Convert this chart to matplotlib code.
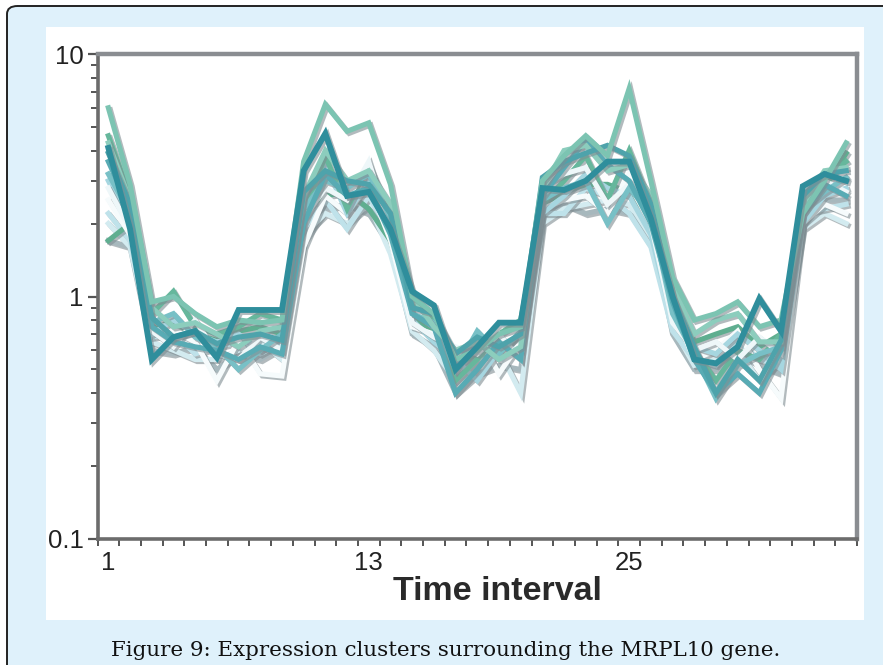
import matplotlib
matplotlib.use("Agg")
import matplotlib.pyplot as plt
import matplotlib.patheffects as pe
from matplotlib.patches import FancyBboxPatch, Rectangle
from matplotlib.ticker import FixedLocator, NullFormatter, FixedFormatter

# time points 1..35
time = list(range(1, 36))

# expression profiles of the neighbouring genes (cluster members)
gene_a = [6.0, 2.9, 0.95, 1.0, 0.85, 0.75, 0.80, 0.78, 0.80, 3.6, 6.2, 4.8, 5.2, 2.9, 1.0, 0.85, 0.55, 0.60, 0.70, 0.75, 3.0, 3.8, 4.6, 3.8, 7.2, 3.0, 1.2, 0.80, 0.85, 0.95, 0.75, 0.80, 2.2, 3.0, 4.3]
gene_b = [4.6, 2.6, 0.85, 1.05, 0.75, 0.70, 0.75, 0.85, 0.80, 2.2, 3.8, 2.3, 3.5, 2.2, 0.95, 0.80, 0.45, 0.55, 0.70, 0.80, 2.4, 3.0, 3.8, 2.5, 4.0, 2.4, 0.85, 0.60, 0.45, 0.60, 0.55, 0.70, 2.5, 3.1, 3.6]
gene_c = [3.6, 2.3, 0.75, 0.65, 0.62, 0.60, 0.55, 0.62, 0.58, 2.0, 3.2, 2.6, 2.8, 1.8, 0.85, 0.75, 0.40, 0.50, 0.65, 0.55, 2.6, 3.4, 4.4, 3.5, 3.0, 2.0, 0.95, 0.55, 0.40, 0.48, 0.40, 0.60, 2.2, 2.9, 2.6]
gene_d = [3.0, 2.0, 0.70, 0.80, 0.70, 0.65, 0.70, 0.60, 0.68, 2.5, 3.5, 2.2, 3.0, 2.0, 0.80, 0.65, 0.55, 0.45, 0.60, 0.70, 2.2, 2.6, 3.2, 2.8, 2.6, 1.8, 0.80, 0.62, 0.58, 0.70, 0.60, 0.50, 2.0, 2.6, 2.8]
gene_e = [2.5, 1.8, 0.80, 0.72, 0.65, 0.45, 0.66, 0.48, 0.47, 1.6, 2.6, 2.2, 2.9, 1.7, 0.75, 0.70, 0.55, 0.70, 0.48, 0.65, 2.3, 2.5, 2.6, 2.2, 3.2, 2.3, 0.90, 0.55, 0.60, 0.72, 0.50, 0.38, 2.0, 2.4, 2.2]
gene_f = [2.0, 1.6, 0.65, 0.60, 0.55, 0.55, 0.60, 0.65, 0.55, 1.8, 2.2, 2.0, 2.4, 1.5, 0.72, 0.60, 0.45, 0.55, 0.60, 0.40, 2.0, 2.3, 2.4, 2.5, 2.4, 1.7, 0.75, 0.52, 0.55, 0.60, 0.45, 0.55, 1.9, 2.2, 2.0]
gene_g = [1.7, 1.6, 0.60, 0.58, 0.62, 0.50, 0.58, 0.55, 0.62, 1.7, 2.3, 2.4, 2.2, 1.6, 0.70, 0.62, 0.40, 0.48, 0.52, 0.50, 2.1, 2.4, 2.2, 2.3, 2.2, 1.9, 0.70, 0.50, 0.50, 0.58, 0.52, 0.48, 2.1, 2.5, 2.5]
gene_h = [4.3, 2.5, 0.90, 0.75, 0.78, 0.70, 0.62, 0.72, 0.75, 2.6, 4.0, 3.0, 3.3, 2.4, 1.0, 0.75, 0.60, 0.65, 0.55, 0.62, 2.8, 4.0, 4.2, 3.3, 3.5, 2.6, 1.1, 0.70, 0.80, 0.85, 0.65, 0.65, 2.4, 3.3, 3.4]
gene_i = [3.2, 2.2, 0.78, 0.85, 0.68, 0.62, 0.50, 0.60, 0.70, 2.3, 3.0, 2.8, 3.2, 2.1, 0.85, 0.78, 0.50, 0.72, 0.58, 0.72, 2.5, 2.8, 3.0, 2.0, 2.8, 2.2, 0.85, 0.58, 0.38, 0.52, 0.58, 0.62, 2.3, 2.7, 3.1]
gene_j = [2.8, 1.9, 0.72, 0.62, 0.80, 0.58, 0.55, 0.68, 0.60, 2.1, 2.8, 2.5, 3.6, 1.9, 0.78, 0.68, 0.62, 0.58, 0.70, 0.55, 2.9, 3.2, 3.4, 2.4, 2.9, 2.0, 0.78, 0.60, 0.65, 0.55, 0.68, 0.58, 2.6, 3.0, 2.7]
gene_k = [2.2, 1.7, 0.68, 0.70, 0.58, 0.62, 0.65, 0.58, 0.65, 1.9, 2.5, 1.9, 2.6, 1.8, 0.78, 0.72, 0.48, 0.62, 0.65, 0.60, 2.2, 2.2, 2.8, 2.6, 2.2, 1.6, 0.72, 0.55, 0.52, 0.66, 0.55, 0.52, 2.2, 2.3, 2.4]
gene_l = [1.7, 2.0, 0.75, 0.78, 0.70, 0.66, 0.72, 0.75, 0.70, 2.3, 2.6, 2.7, 2.3, 1.7, 0.82, 0.70, 0.52, 0.58, 0.62, 0.68, 2.4, 2.7, 2.9, 2.9, 2.7, 2.1, 0.95, 0.65, 0.70, 0.75, 0.62, 0.70, 2.0, 2.8, 3.9]
gene_m = [3.9, 2.4, 0.82, 0.68, 0.72, 0.64, 0.68, 0.70, 0.66, 2.7, 3.3, 3.0, 2.9, 2.2, 0.90, 0.85, 0.58, 0.68, 0.62, 0.70, 3.1, 3.6, 3.9, 4.2, 3.8, 2.4, 1.0, 0.62, 0.40, 0.55, 0.45, 0.66, 2.6, 3.2, 3.3]

# MRPL10 itself
mrpl10 = [4.1, 1.9, 0.55, 0.68, 0.72, 0.56, 0.88, 0.88, 0.88, 3.3, 4.7, 2.6, 2.7, 1.9, 1.05, 0.92, 0.50, 0.62, 0.78, 0.78, 2.8, 2.75, 3.0, 3.6, 3.6, 2.1, 1.0, 0.55, 0.53, 0.62, 0.98, 0.72, 2.85, 3.2, 3.0]

cluster = [
    (gene_g, "#a7b8bd"),
    (gene_f, "#d3ebf0"),
    (gene_k, "#bfe2ea"),
    (gene_l, "#5fae90"),
    (gene_e, "#f6fbfc"),
    (gene_d, "#a6d6e0"),
    (gene_b, "#66b79c"),
    (gene_j, "#eef7f9"),
    (gene_i, "#78c0c6"),
    (gene_c, "#58abb4"),
    (gene_h, "#8ccdbd"),
    (gene_m, "#4ea3ab"),
    (gene_a, "#7cc4b2"),
]

W, H = 883, 665
fig = plt.figure(figsize=(W / 100, H / 100), dpi=100)

# light blue frame with the rounded border
fig.patches.append(FancyBboxPatch((7 / W, -0.05), 1.2, 1 - 6 / H + 0.05,
                                  boxstyle="round,pad=0,rounding_size=0.012",
                                  transform=fig.transFigure, facecolor="#dff1fb",
                                  edgecolor="#222222", linewidth=1.4, zorder=-2))
# white area holding the chart
fig.patches.append(Rectangle((46 / W, 1 - 620 / H), (864 - 46) / W, (620 - 27) / H,
                             transform=fig.transFigure, facecolor="white",
                             edgecolor="none", zorder=-1))

ax = fig.add_axes([97.5 / W, 1 - 539 / H, (857 - 97.5) / W, (539 - 54) / H])
ax.set_zorder(2)
ax.set_facecolor("white")

shadow = [pe.SimpleLineShadow(offset=(1.5, -1.5), shadow_color="#7f8d92", alpha=0.6), pe.Normal()]
for values, color in cluster:
    ax.plot(time, values, color=color, linewidth=3.7, solid_joinstyle="miter",
            path_effects=shadow)
ax.plot(time, mrpl10, color="#2f8e9c", linewidth=4.2, solid_joinstyle="miter",
        path_effects=shadow)

ax.set_yscale("log")
ax.set_ylim(0.1, 10)
ax.set_xlim(0.5, 35.5)

ax.yaxis.set_major_locator(FixedLocator([0.1, 1, 10]))
ax.yaxis.set_major_formatter(FixedFormatter(["0.1", "1", "10"]))
ax.yaxis.set_minor_locator(FixedLocator([m * 10.0 ** e for e in (-1, 0) for m in range(2, 10)]))
ax.yaxis.set_minor_formatter(NullFormatter())

ax.xaxis.set_major_locator(FixedLocator([1, 13, 25]))
ax.xaxis.set_major_formatter(FixedFormatter(["1", "13", "25"]))
ax.xaxis.set_minor_locator(FixedLocator([t + 0.5 for t in range(0, 36)]))

ax.tick_params(axis="y", which="major", direction="out", length=7, width=1.6,
               color="#555555", labelsize=18.5, labelcolor="#222222", pad=3)
ax.tick_params(axis="y", which="minor", direction="out", length=5, width=1.4, color="#555555")
ax.tick_params(axis="x", which="major", length=0, labelsize=18.5, labelcolor="#222222", pad=9)
ax.tick_params(axis="x", which="minor", direction="out", length=5, width=1.4, color="#555555")
for lab in ax.get_xticklabels() + ax.get_yticklabels():
    lab.set_family("Liberation Sans")

for side in ("left", "bottom"):
    ax.spines[side].set_color("#6c6c6c")
    ax.spines[side].set_linewidth(2.6)
for side in ("top", "right"):
    ax.spines[side].set_color("#8a8d91")
    ax.spines[side].set_linewidth(3.2)

fig.text(497 / W, 1 - 591 / H, "Time interval", ha="center", va="center",
         fontsize=24.5, fontweight="bold", family="Liberation Sans", color="#2a2a2a")
fig.text(446 / W, 1 - 651 / H, "Figure 9: Expression clusters surrounding the MRPL10 gene.",
         ha="center", va="center", fontsize=15.4, family="DejaVu Serif", color="#111111")

fig.savefig("out.png", dpi=100)
